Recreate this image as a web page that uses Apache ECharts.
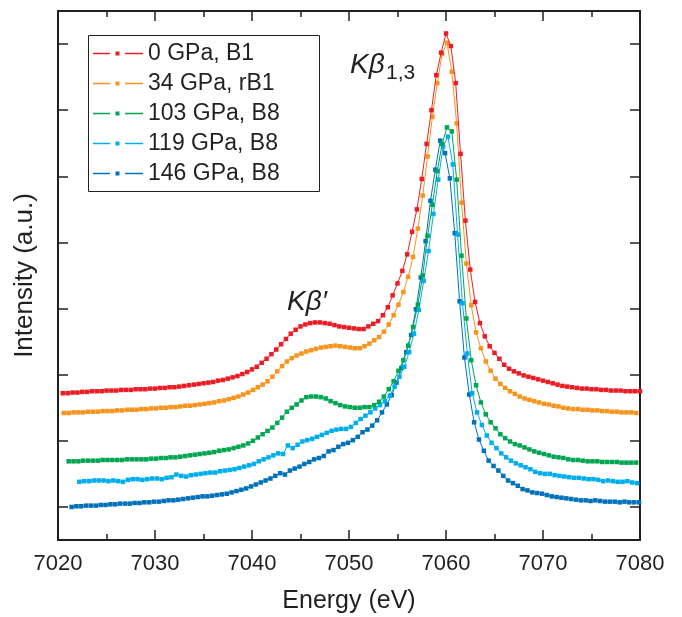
<!DOCTYPE html>
<html>
<head>
<meta charset="utf-8">
<script src="https://cdn.jsdelivr.net/npm/echarts@6/dist/echarts.min.js"></script>
<style>
html,body{margin:0;padding:0;background:#fff;}
#chart{width:682px;height:617px;}
</style>
</head>
<body>
<div id="chart"></div>
<script>
// Energy grids (eV): first point of each spectrum and the sampling step
const step = 0.5;
const startRed = 7020.5, startOrange = 7020.6, startGreen = 7021.1, startLightBlue = 7022.2, startBlue = 7021.4;

const seriesNames = ['0 GPa, B1', '34 GPa, rB1', '103 GPa, B8', '119 GPa, B8', '146 GPa, B8'];

const red = [
  2.22,2.22,2.23,2.23,2.24,2.24,2.25,2.25,2.25,2.26,
  2.26,2.26,2.27,2.27,2.27,2.28,2.28,2.28,2.29,2.29,
  2.30,2.30,2.31,2.31,2.32,2.33,2.34,2.35,2.36,2.37,
  2.38,2.39,2.41,2.42,2.44,2.46,2.48,2.51,2.54,2.58,
  2.62,2.68,2.74,2.81,2.88,2.96,3.04,3.12,3.18,3.23,
  3.26,3.28,3.29,3.29,3.28,3.27,3.25,3.23,3.22,3.21,
  3.20,3.19,3.19,3.23,3.27,3.31,3.40,3.52,3.70,3.88,
  4.07,4.32,4.66,5.00,5.46,5.99,6.50,7.03,7.37,7.66,
  7.47,6.91,5.84,4.83,4.09,3.60,3.28,3.08,2.93,2.83,
  2.74,2.65,2.59,2.55,2.52,2.49,2.47,2.45,2.43,2.41,
  2.39,2.37,2.35,2.33,2.32,2.31,2.30,2.29,2.29,2.28,
  2.28,2.27,2.27,2.26,2.26,2.26,2.25,2.25,2.25,2.25
];
const orange = [
  1.92,1.92,1.93,1.93,1.93,1.94,1.94,1.94,1.95,1.95,
  1.95,1.96,1.96,1.97,1.97,1.97,1.98,1.98,1.99,1.99,
  2.00,2.00,2.01,2.01,2.02,2.03,2.03,2.04,2.05,2.06,
  2.07,2.08,2.10,2.11,2.13,2.15,2.17,2.20,2.23,2.27,
  2.31,2.35,2.40,2.47,2.55,2.63,2.70,2.75,2.79,2.82,
  2.85,2.87,2.89,2.91,2.92,2.93,2.94,2.93,2.92,2.91,
  2.90,2.90,2.93,2.97,3.02,3.07,3.15,3.26,3.40,3.56,
  3.75,3.98,4.28,4.71,5.21,5.80,6.40,6.91,7.35,7.52,
  7.08,6.30,5.10,4.18,3.55,3.14,2.90,2.70,2.56,2.44,
  2.36,2.30,2.25,2.21,2.17,2.14,2.12,2.10,2.08,2.06,
  2.05,2.03,2.02,2.00,1.99,1.98,1.98,1.97,1.97,1.96,
  1.96,1.95,1.95,1.94,1.94,1.93,1.93,1.93,1.92
];
const green = [
  1.19,1.19,1.19,1.20,1.20,1.20,1.20,1.21,1.21,1.21,
  1.21,1.21,1.22,1.22,1.22,1.22,1.22,1.23,1.23,1.24,
  1.24,1.25,1.25,1.26,1.27,1.28,1.29,1.30,1.31,1.32,
  1.33,1.35,1.36,1.37,1.39,1.41,1.43,1.46,1.50,1.55,
  1.60,1.65,1.70,1.77,1.85,1.94,2.00,2.05,2.11,2.16,
  2.17,2.17,2.16,2.14,2.10,2.07,2.04,2.02,2.01,2.00,
  2.00,2.01,2.01,2.04,2.09,2.17,2.28,2.40,2.56,2.72,
  2.94,3.22,3.56,4.00,4.60,5.07,5.58,5.99,6.24,6.18,
  5.45,4.30,3.35,2.72,2.34,2.08,1.90,1.78,1.69,1.60,
  1.54,1.49,1.45,1.43,1.40,1.37,1.34,1.32,1.30,1.28,
  1.26,1.25,1.24,1.22,1.21,1.21,1.20,1.19,1.19,1.19,
  1.18,1.18,1.18,1.18,1.17,1.17,1.17,1.17
];
const lightBlue = [
  0.88,0.89,0.89,0.90,0.90,0.90,0.89,0.90,0.89,0.88,
  0.91,0.92,0.92,0.91,0.92,0.93,0.93,0.92,0.94,0.95,
  0.99,0.97,0.96,0.98,0.99,1.00,1.01,1.02,1.02,1.04,
  1.05,1.06,1.07,1.09,1.11,1.13,1.15,1.19,1.22,1.25,
  1.28,1.31,1.30,1.43,1.39,1.44,1.49,1.51,1.53,1.56,
  1.59,1.62,1.65,1.67,1.68,1.68,1.71,1.77,1.83,1.88,
  1.93,1.99,2.04,2.10,2.18,2.32,2.47,2.62,2.84,3.12,
  3.48,3.92,4.37,4.93,5.45,5.95,6.10,5.68,4.62,3.58,
  2.82,2.22,1.93,1.74,1.58,1.47,1.39,1.31,1.25,1.20,
  1.16,1.13,1.10,1.07,1.03,1.01,1.00,1.00,0.98,0.97,
  0.96,0.95,0.94,0.94,0.93,0.92,0.92,0.91,0.89,0.90,
  0.89,0.88,0.88,0.89,0.87,0.86
];
const blue = [
  0.50,0.51,0.51,0.52,0.52,0.52,0.53,0.53,0.54,0.54,
  0.55,0.55,0.55,0.56,0.56,0.57,0.57,0.58,0.58,0.59,
  0.60,0.60,0.61,0.62,0.63,0.64,0.65,0.66,0.66,0.67,
  0.68,0.69,0.70,0.72,0.74,0.76,0.78,0.81,0.84,0.87,
  0.90,0.93,0.97,1.01,0.99,1.05,1.08,1.11,1.15,1.18,
  1.22,1.24,1.27,1.34,1.36,1.41,1.45,1.47,1.51,1.56,
  1.63,1.67,1.73,1.81,1.93,2.05,2.19,2.38,2.60,2.84,
  3.10,3.49,3.97,4.52,5.13,5.60,6.04,5.85,5.47,4.64,
  3.61,2.76,2.20,1.78,1.52,1.35,1.20,1.12,1.05,0.97,
  0.90,0.86,0.82,0.77,0.75,0.72,0.71,0.70,0.68,0.66,
  0.65,0.64,0.63,0.62,0.61,0.60,0.60,0.59,0.60,0.59,
  0.58,0.58,0.58,0.57,0.58,0.57,0.57,0.57
];

const yTickPositions = [0.5, 1.5, 2.5, 3.5, 4.5, 5.5, 6.5, 7.5];

const colors = ['#ec1c24', '#f7941d', '#00a651', '#00aeef', '#0072bc'];
const starts = [startRed, startOrange, startGreen, startLightBlue, startBlue];
const values = [red, orange, green, lightBlue, blue];

const ink = '#231f20';
const font = 'Liberation Sans, Arial, Helvetica, sans-serif';
// legend glyph: dash - small square - dash
const legendIcon = 'path://M0,1.8 L17,1.8 L17,3.3 L0,3.3 Z M22.5,0.5 L26.5,0.5 L26.5,4.5 L22.5,4.5 Z M32,1.8 L50,1.8 L50,3.3 L32,3.3 Z';

function pairs(start, arr) { return arr.map((v, i) => [start + i * step, v]); }

const axisCommon = {
  axisLine: { show: true, onZero: false, lineStyle: { color: ink, width: 2 } },
  splitLine: { show: false },
};

const chart = echarts.init(document.getElementById('chart'), null, { renderer: 'canvas' });
chart.setOption({
  animation: false,
  backgroundColor: '#fff',
  textStyle: { fontFamily: font },
  grid: { left: 58, right: 42, top: 11, bottom: 77, containLabel: false, outerBoundsMode: 'none' },
  legend: {
    orient: 'vertical', left: 87, top: 33, padding: [9, 6, 9, 6],
    icon: legendIcon,
    itemWidth: 50, itemHeight: 4, itemGap: 7,
    itemStyle: { borderWidth: 0 },
    lineStyle: { width: 0 },
    textStyle: { fontSize: 23, color: ink, fontFamily: font, lineHeight: 22 },
    data: seriesNames.map((n, k) => ({
      name: n,
      itemStyle: { color: colors[k], borderColor: colors[k], borderWidth: 0 }
    }))
  },
  xAxis: [
    Object.assign({}, axisCommon, {
      type: 'value', min: 7020, max: 7080, interval: 10, position: 'bottom',
      name: 'Energy (eV)', nameLocation: 'middle', nameGap: 49,
      nameTextStyle: { fontSize: 25, color: ink, fontFamily: font },
      axisTick: { show: true, inside: true, length: 10, lineStyle: { color: ink, width: 1.5 } },
      minorTick: { show: true, splitNumber: 2, length: 6, lineStyle: { color: ink, width: 1.5 } },
      axisLabel: { show: true, fontSize: 22, color: ink, margin: 13, fontFamily: font,
        formatter: v => String(v) }
    }),
    Object.assign({}, axisCommon, {
      type: 'value', min: 7020, max: 7080, interval: 10, position: 'top',
      axisTick: { show: true, inside: true, length: 10, lineStyle: { color: ink, width: 1.5 } },
      minorTick: { show: true, splitNumber: 2, length: 6, lineStyle: { color: ink, width: 1.5 } },
      axisLabel: { show: false }
    })
  ],
  yAxis: [
    Object.assign({}, axisCommon, {
      type: 'value', min: 0, max: 8, position: 'left',
      name: 'Intensity (a.u.)', nameLocation: 'middle', nameGap: 20,
      nameTextStyle: { fontSize: 26, color: ink, fontFamily: font },
      axisTick: { show: true, inside: true, length: 10, customValues: yTickPositions, lineStyle: { color: ink, width: 1.5 } },
      axisLabel: { show: false }
    }),
    Object.assign({}, axisCommon, {
      type: 'value', min: 0, max: 8, position: 'right',
      axisTick: { show: true, inside: true, length: 10, customValues: yTickPositions, lineStyle: { color: ink, width: 1.5 } },
      axisLabel: { show: false }
    })
  ],
  series: seriesNames.map((name, k) => ({
    name: name,
    type: 'line',
    xAxisIndex: 0, yAxisIndex: 0,
    data: pairs(starts[k], values[k]),
    symbol: 'rect', symbolSize: 4.5, showSymbol: true,
    color: colors[k],
    lineStyle: { width: 1, color: colors[k] },
    itemStyle: { color: colors[k] },
    z: 10 - k
  })),
  graphic: [
    { type: 'rect', left: 86, top: 33, shape: { width: 231, height: 156 },
      style: { fill: null, stroke: ink, lineWidth: 1 }, z: 100 },
    { type: 'text', left: 350, top: 51,
      style: { text: 'Kβ', font: 'italic 28px ' + font, fill: ink }, z: 100 },
    { type: 'text', left: 386, top: 63,
      style: { text: '1,3', font: '21px ' + font, fill: ink }, z: 100 },
    { type: 'text', left: 287, top: 288,
      style: { text: 'Kβ′', font: 'italic 28px ' + font, fill: ink }, z: 100 }
  ]
});
</script>
</body>
</html>
